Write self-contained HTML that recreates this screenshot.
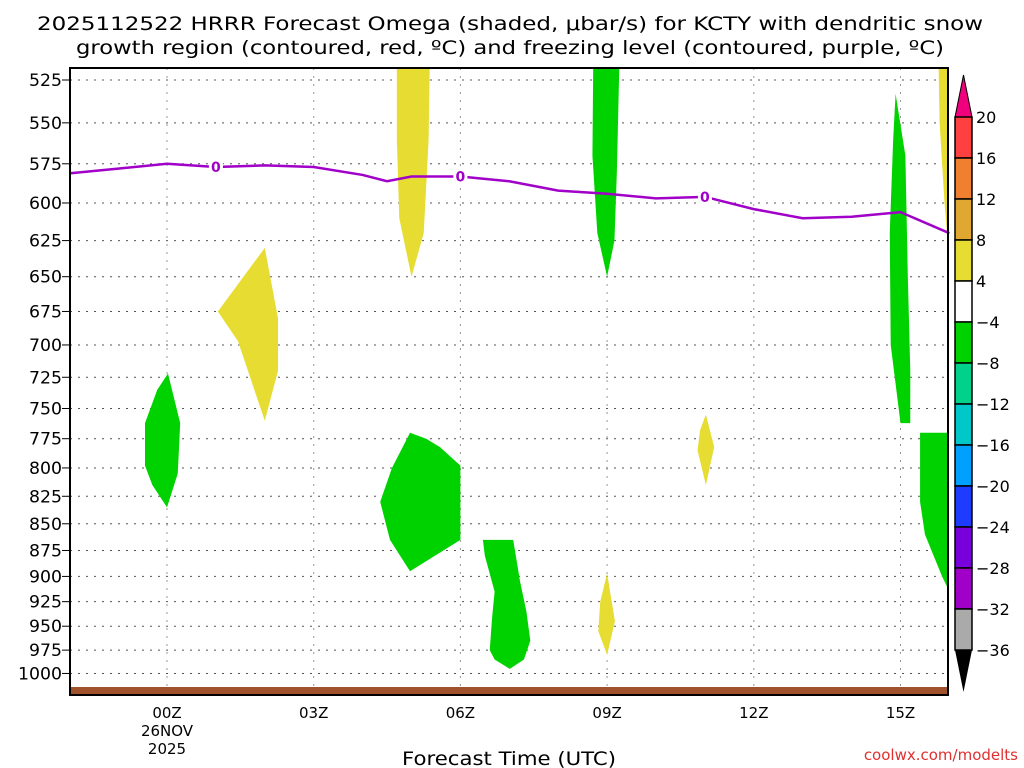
<!DOCTYPE html>
<html><head><meta charset="utf-8"><style>
body{margin:0;background:#fff;}
svg{display:block;font-family:"DejaVu Sans","Liberation Sans",sans-serif;}
</style></head><body>
<svg id="chart" width="1024" height="768" xmlns="http://www.w3.org/2000/svg">
<text x="510" y="30" text-anchor="middle" font-size="19" textLength="946" lengthAdjust="spacingAndGlyphs">2025112522 HRRR Forecast Omega (shaded, μbar/s) for KCTY with dendritic snow</text>
<text x="510" y="54" text-anchor="middle" font-size="19" textLength="868" lengthAdjust="spacingAndGlyphs">growth region (contoured, red, ºC) and freezing level (contoured, purple, ºC)</text>
<g id="grid"></g>
<g id="shapes"></g>
<rect x="70" y="687" width="878" height="7" fill="#a0522d"/>
<g id="fz"></g>
<rect x="70" y="68" width="878" height="627" fill="none" stroke="#000" stroke-width="2"/>
<g id="yax"></g>
<g id="xax"></g>
<text x="167" y="736" text-anchor="middle" font-size="15">26NOV</text>
<text x="167" y="754" text-anchor="middle" font-size="15">2025</text>
<text x="509" y="765" text-anchor="middle" font-size="19" textLength="214" lengthAdjust="spacingAndGlyphs">Forecast Time (UTC)</text>
<text x="1018" y="760" text-anchor="end" font-size="15" fill="#e03030">coolwx.com/modelts</text>
<g id="cbar"></g>
</svg>
<script>
const pTicks=[525,550,575,600,625,650,675,700,725,750,775,800,825,850,875,900,925,950,975,1000];
const hTicks=[0,3,6,9,12,15];
const hLabels=["00Z","03Z","06Z","09Z","12Z","15Z"];
const fzHours=[-2,-1,0,1,2,3,4,4.5,5,6,7,8,9,10,11,12,13,14,15,16];
const fzPres=[581,578,575,577,576,577,582,586,583,583,586,592,594,597,596,604,610,609,606,620];
const fzLabelHours=[1,6,11];
const cbLevels=["20","16","12","8","4","−4","−8","−12","−16","−20","−24","−28","−32","−36"];
const cbColors=["#ff4040","#f08030","#e0a830","#e6dc32","#ffffff","#00d200","#00d28c","#00c8c8","#00a0ff","#1e3cff","#7800dc","#a000c8","#aaaaaa"];
const yellowTop=[[4.7,505],[5.38,505],[5.35,560],[5.25,620],[5.0,650],[4.75,610],[4.7,560]];
const green09=[[8.72,505],[9.26,505],[9.2,580],[9.15,625],[9.0,650],[8.8,620],[8.7,570]];
const green15=[[14.9,533],[15.1,570],[15.15,650],[15.2,720],[15.2,762],[15.0,762],[14.8,700],[14.78,620],[14.85,560]];
const yellowEdge=[[15.77,505],[16,505],[16,640],[15.9,600],[15.8,550]];
const yellow01=[[1.04,675],[2.0,630],[2.27,680],[2.27,720],[2.0,760],[1.45,697]];
const green00=[[-0.45,762],[-0.2,735],[0.02,722],[0.27,762],[0.22,805],[0,835],[-0.3,815],[-0.45,798]];
const green05=[[4.36,830],[4.6,800],[4.97,770],[5.3,775],[5.58,782],[6.0,798],[6.0,865],[4.97,895],[4.56,865]];
const green07=[[6.46,865],[7.08,865],[7.22,905],[7.35,935],[7.43,965],[7.3,985],[7.01,995],[6.7,985],[6.6,975],[6.65,940],[6.7,915],[6.5,880]];
const yellow09=[[9.0,897],[9.16,945],[9.0,980],[8.82,955],[8.86,925]];
const yellow11=[[11.02,755],[11.19,782],[11.02,815],[10.85,785],[10.9,768]];
const green16=[[15.4,770],[16.1,770],[16.1,925],[15.85,900],[15.5,860],[15.4,830]];

const NS="http://www.w3.org/2000/svg";
const X=h=>167+(h*48.9);
const Y=p=>80+(Math.log(p)-Math.log(525))*921;
function mk(parent,tag,attrs){const e=document.createElementNS(NS,tag);for(const k in attrs)e.setAttribute(k,attrs[k]);document.getElementById(parent).appendChild(e);return e;}
pTicks.forEach(p=>{
 const l=mk('grid','line',{x1:70,x2:948,y1:Y(p),y2:Y(p),stroke:'#555','stroke-dasharray':'2,6'});
 
 
 const t=mk('yax','text',{x:62,y:Y(p)+6,'text-anchor':'end','font-size':17,textLength:String(p).length*11,lengthAdjust:'spacingAndGlyphs'});
 t.textContent=p;
 
 
 const tk=mk('yax','line',{x1:62,x2:70,y1:Y(p),y2:Y(p),stroke:'#000'});
 
 
});
hTicks.forEach((h,i)=>{
 const l=mk('grid','line',{x1:X(h),x2:X(h),y1:68,y2:695,stroke:'#999','stroke-dasharray':'2,6'});
 
 
 const t=mk('xax','text',{x:X(h),y:718,'text-anchor':'middle','font-size':15});
 t.textContent=hLabels[i];
 
 
});
function poly(pts,color,name){
 const e=mk('shapes','polygon',{points:pts.map(q=>X(q[0])+','+Y(q[1])).join(' '),fill:color});
 
 
}
const Yc="#e6dc32",G="#00d200";
poly(yellowTop,Yc,'rising-area-06z-top');
poly(green09,G,'sinking-area-09z-top');
poly(green15,G,'sinking-area-15z');
poly(yellowEdge,Yc,'rising-area-16z-top');
poly(yellow01,Yc,'rising-area-02z');
poly(green00,G,'sinking-area-00z');
poly(green05,G,'sinking-area-05z');
poly(green07,G,'sinking-area-07z');
poly(yellow09,Yc,'rising-area-09z-low');
poly(yellow11,Yc,'rising-area-11z');
poly(green16,G,'sinking-area-16z-low');
document.getElementById('shapes').setAttribute('clip-path','url(#clipPlot)');
const defs=mk('chart','defs',{});
const cp=document.createElementNS(NS,'clipPath');cp.setAttribute('id','clipPlot');
const cr=document.createElementNS(NS,'rect');cr.setAttribute('x',70);cr.setAttribute('y',68);cr.setAttribute('width',878);cr.setAttribute('height',627);
cp.appendChild(cr);defs.appendChild(cp);
const fzl=mk('fz','polyline',{points:fzHours.map((h,i)=>X(h)+','+Y(fzPres[i])).join(' '),fill:'none',stroke:'#a000c8','stroke-width':2.5});


fzLabelHours.forEach(h=>{
 let p=fzPres[0];for(let i=0;i<fzHours.length-1;i++){if(h>=fzHours[i]&&h<=fzHours[i+1]){const f=(h-fzHours[i])/(fzHours[i+1]-fzHours[i]);p=fzPres[i]+f*(fzPres[i+1]-fzPres[i]);}}
 const bg=mk('fz','rect',{x:X(h)-7,y:Y(p)-8,width:14,height:16,fill:'#fff'});
 
 
 const t=mk('fz','text',{x:X(h),y:Y(p)+5,'text-anchor':'middle','font-size':14,'font-weight':'bold',fill:'#a000c8'});
 t.textContent='0';
 
 
});
const cbTop=117,cbH=41,cx=955,cw=17;
const up=mk('cbar','polygon',{points:`${cx},${cbTop} ${cx+cw},${cbTop} ${cx+cw/2},${cbTop-42}`,fill:'#f0007c',stroke:'#000'});


cbColors.forEach((c,i)=>{
 const r=mk('cbar','rect',{x:cx,y:cbTop+i*cbH,width:cw,height:cbH,fill:c,stroke:'#000','stroke-width':1.5});
 
 
});
const bot=cbTop+cbColors.length*cbH;
const dn=mk('cbar','polygon',{points:`${cx},${bot} ${cx+cw},${bot} ${cx+cw/2},${bot+42}`,fill:'#000'});


cbLevels.forEach((s,i)=>{
 const t=mk('cbar','text',{x:976,y:cbTop+i*cbH+6,'font-size':16});
 t.textContent=s;
 
 
});
</script>
</body></html>
